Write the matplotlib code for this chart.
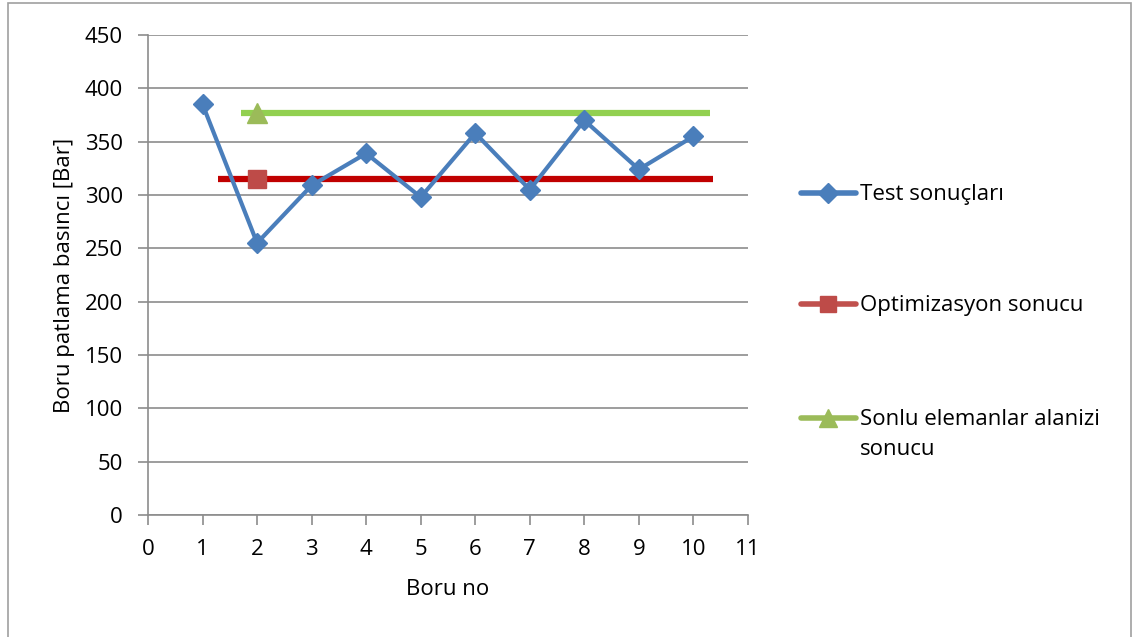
import matplotlib
matplotlib.use("Agg")
import matplotlib.pyplot as plt
from matplotlib.lines import Line2D
from matplotlib.patches import Rectangle

plt.rcParams['font.family'] = ['Open Sans', 'DejaVu Sans']

# Test results per pipe
boru_no = [1, 2, 3, 4, 5, 6, 7, 8, 9, 10]
test_sonuclari = [385, 255, 309, 339, 298, 358, 305, 370, 324, 355]

# Single-value reference results and the span of their horizontal bars
opt_x, opt_y = 2, 315
opt_span = (1.28, 10.35)
fem_x, fem_y = 2, 377
fem_span = (1.7, 10.3)

labels = ["Test sonuçları", "Optimizasyon sonucu", "Sonlu elemanlar alanizi\nsonucu"]

blue = "#4a7ebb"
red_line, red_mark = "#c00000", "#be4b48"
green_line, green_mark = "#92d050", "#9bbb59"
grid_c = "#8c8c8c"

fig = plt.figure(figsize=(11.34, 6.37), dpi=100)
fig.patches.append(Rectangle((8 / 1134, -0.01), 1 - 11 / 1134, 1 - 3 / 637 + 0.01,
                             transform=fig.transFigure, fill=False,
                             edgecolor="#a0a0a0", lw=1.2))

ax = fig.add_axes([148 / 1134, 1 - 515 / 637, 600 / 1134, 480 / 637])

ax.hlines(opt_y, *opt_span, color=red_line, lw=4.5, zorder=3)
ax.hlines(fem_y, *fem_span, color=green_line, lw=4.5, zorder=3)
ax.plot(boru_no, test_sonuclari, color=blue, lw=3, marker="D", ms=10,
        mfc=blue, mec=blue, zorder=4)
ax.plot([opt_x], [opt_y], ls="none", marker="s", ms=13, color=red_mark, zorder=5)
ax.plot([fem_x], [fem_y], ls="none", marker="^", ms=14, color=green_mark, zorder=5)

ax.set_xlim(0, 11)
ax.set_ylim(0, 450)
ax.set_xticks(range(0, 12))
ax.set_yticks(range(0, 451, 50))
ax.yaxis.grid(True, color=grid_c, lw=1.2)
ax.set_axisbelow(True)
for s in ("top", "right"):
    ax.spines[s].set_visible(False)
for s in ("left", "bottom"):
    ax.spines[s].set_color(grid_c)
    ax.spines[s].set_linewidth(1.2)
ax.tick_params(axis="both", direction="out", length=7, color=grid_c,
               width=1.2, labelsize=16)
ax.tick_params(axis="y", pad=11)
ax.tick_params(axis="x", pad=10)
ax.set_xlabel("Boru no", fontsize=16, labelpad=14)
ax.set_ylabel("Boru patlama basıncı [Bar]", fontsize=16, labelpad=7)

# Legend drawn beside the plot
fw, fh = 1134, 637
entries = [
    (193, "#4a7ebb", "D", 10, blue, labels[0]),
    (304, "#c0504d", "s", 12, red_mark, labels[1]),
    (418, green_mark, "^", 13, green_mark, labels[2]),
]
for ypix, lc, mk, ms, mc, lab in entries:
    yf = 1 - ypix / fh
    fig.add_artist(Line2D([801 / fw, 856 / fw], [yf, yf], color=lc, lw=4,
                          solid_capstyle="round", transform=fig.transFigure))
    fig.add_artist(Line2D([828.5 / fw], [yf], marker=mk, ms=ms, color=mc,
                          ls="none", transform=fig.transFigure))
    fig.text(860 / fw, yf + 0.0135, lab, fontsize=16, va="top", ha="left",
             linespacing=1.55)

fig.savefig("out.png", dpi=100)
